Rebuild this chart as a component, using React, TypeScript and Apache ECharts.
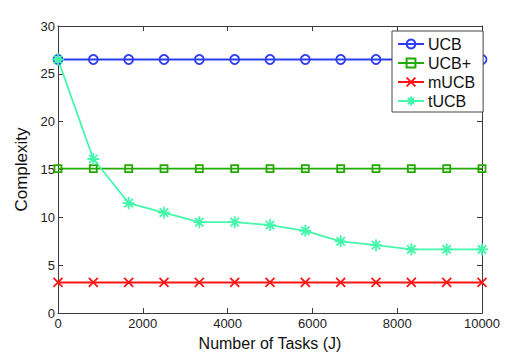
import React, { useEffect, useRef } from "react";
import * as echarts from "echarts";

const xValues = [0, 833, 1667, 2500, 3333, 4167, 5000, 5833, 6667, 7500, 8333, 9167, 10000];
const ucb = [26.5, 26.5, 26.5, 26.5, 26.5, 26.5, 26.5, 26.5, 26.5, 26.5, 26.5, 26.5, 26.5];
const ucbPlus = [15.1, 15.1, 15.1, 15.1, 15.1, 15.1, 15.1, 15.1, 15.1, 15.1, 15.1, 15.1, 15.1];
const mucb = [3.2, 3.2, 3.2, 3.2, 3.2, 3.2, 3.2, 3.2, 3.2, 3.2, 3.2, 3.2, 3.2];
const tucb = [26.5, 16.1, 11.5, 10.5, 9.5, 9.5, 9.2, 8.6, 7.5, 7.1, 6.65, 6.65, 6.65];
const seriesNames = ["UCB", "UCB+", "mUCB", "tUCB"];

const FONT = "Liberation Sans, Arial, Helvetica, sans-serif";

export default function App() {
  const ref = useRef<HTMLDivElement>(null);
  useEffect(() => {
    const chart = echarts.init(ref.current!, null, { renderer: "svg" });
    const pair = (ys: number[]) => xValues.map((x, i) => [x, ys[i]]);
    const axisCommon = {
      axisLine: { show: true, onZero: false, lineStyle: { color: "#3a3a3a", width: 1 } },
      axisTick: { show: true, inside: true, length: 5, lineStyle: { color: "#3a3a3a" } },
      splitLine: { show: false },
    };
    const mk = (name: string, ys: number[], color: string, symbol: string, size: number) => ({
      name,
      type: "line",
      data: pair(ys),
      symbol,
      symbolSize: size,
      showAllSymbol: true,
      lineStyle: { color, width: 1.8 },
      itemStyle: { color: "transparent", borderColor: color, borderWidth: 1.8 },
      emphasis: { disabled: true },
    });
    chart.setOption({
      animation: false,
      textStyle: { fontFamily: FONT },
      grid: { left: 58, right: 27, top: 26, bottom: 40, containLabel: false },
      legend: {
        orient: "vertical",
        left: 392,
        top: 31,
        data: seriesNames,
        itemWidth: 26,
        itemHeight: 11,
        itemGap: 3,
        padding: [5, 8, 3, 5],
        backgroundColor: "#fff",
        borderColor: "#444",
        borderWidth: 1,
        borderRadius: 0,
        textStyle: { fontSize: 16, color: "#111", fontFamily: FONT, padding: [0, 0, 0, -1] },
      },
      xAxis: [
        {
          type: "value",
          min: 0,
          max: 10000,
          interval: 2000,
          ...axisCommon,
          axisLabel: { fontSize: 13, color: "#222", margin: 4, formatter: (v: number) => String(v) },
          name: "Number of Tasks (J)",
          nameLocation: "middle",
          nameGap: 19,
          nameTextStyle: { fontSize: 16, color: "#111" },
        },
        {
          type: "value",
          position: "top",
          min: 0,
          max: 10000,
          interval: 2000,
          ...axisCommon,
          axisLabel: { show: false },
        },
      ],
      yAxis: [
        {
          type: "value",
          min: 0,
          max: 30,
          interval: 5,
          ...axisCommon,
          axisLabel: { fontSize: 13, color: "#222", margin: 3 },
          name: "Complexity",
          nameLocation: "middle",
          nameGap: 21,
          nameTextStyle: { fontSize: 17, color: "#111" },
        },
        {
          type: "value",
          position: "right",
          min: 0,
          max: 30,
          interval: 5,
          ...axisCommon,
          axisLabel: { show: false },
        },
      ],
      series: [
        mk("UCB", ucb, "#2b3cf2", "circle", 9),
        mk("UCB+", ucbPlus, "#22aa00", "rect", 7),
        mk("mUCB", mucb, "#ff1414", "path://M0,0L10,10M10,0L0,10", 9),
        mk("tUCB", tucb, "#44f7aa", "path://M5,0L5,10M0,5L10,5M1.5,1.5L8.5,8.5M8.5,1.5L1.5,8.5", 12),
      ],
    });
    return () => chart.dispose();
  }, []);
  return (
    <div
      ref={ref}
      style={{ position: "absolute", left: 0, top: 0, width: 509, height: 356, background: "#fff" }}
    />
  );
}
